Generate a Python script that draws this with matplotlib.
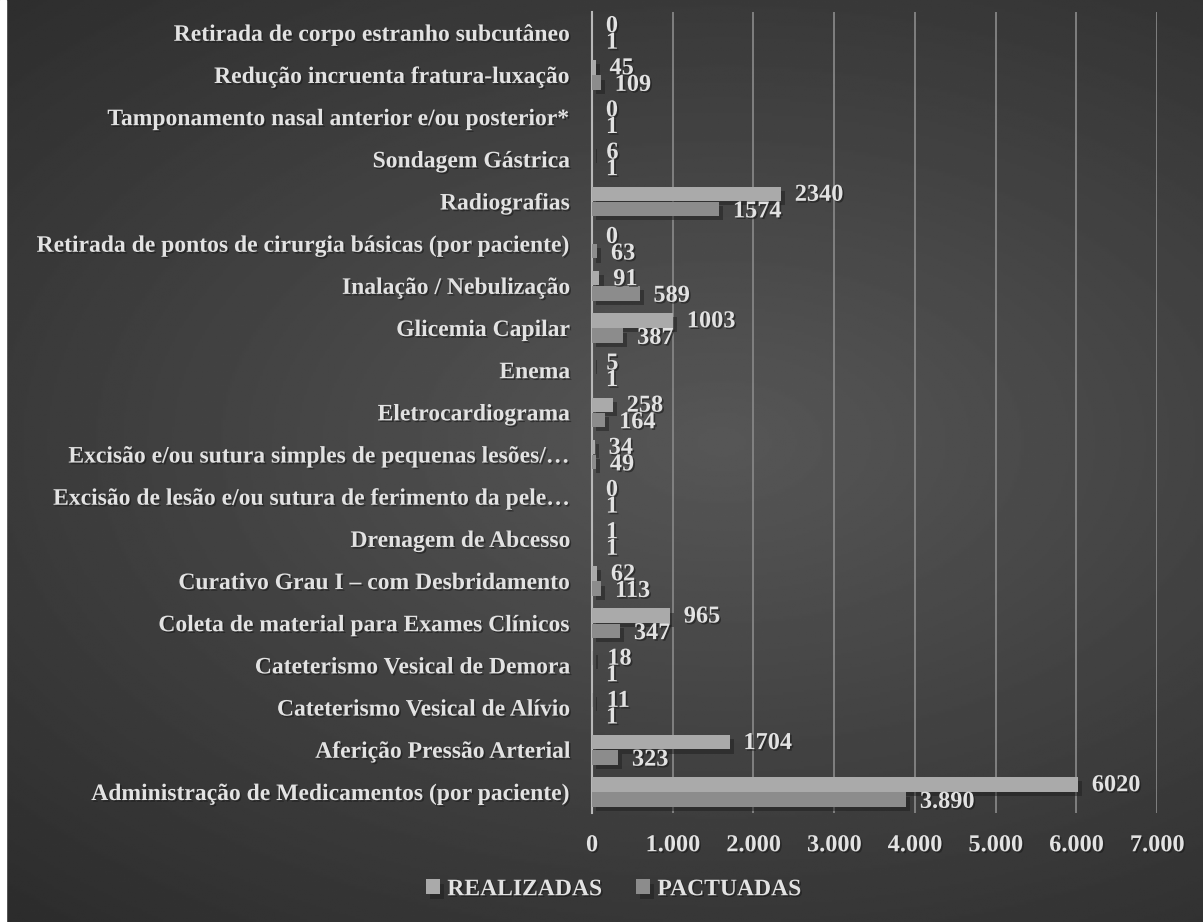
import numpy as np
import matplotlib.pyplot as plt
from matplotlib import patheffects as pe

categorias = [
    "Administração de Medicamentos (por paciente)",
    "Aferição Pressão Arterial",
    "Cateterismo Vesical de Alívio",
    "Cateterismo Vesical de Demora",
    "Coleta de material para Exames Clínicos",
    "Curativo Grau I – com Desbridamento",
    "Drenagem de Abcesso",
    "Excisão de lesão e/ou sutura de ferimento da pele…",
    "Excisão e/ou sutura simples de pequenas lesões/…",
    "Eletrocardiograma",
    "Enema",
    "Glicemia Capilar",
    "Inalação / Nebulização",
    "Retirada de pontos de cirurgia básicas (por paciente)",
    "Radiografias",
    "Sondagem Gástrica",
    "Tamponamento nasal anterior e/ou posterior*",
    "Redução incruenta fratura-luxação",
    "Retirada de corpo estranho subcutâneo",
]
realizadas = [6020, 1704, 11, 18, 965, 62, 1, 0, 34, 258, 5, 1003, 91, 0, 2340, 6, 0, 45, 0]
pactuadas = [3890, 323, 1, 1, 347, 113, 1, 1, 49, 164, 1, 387, 589, 63, 1574, 1, 1, 109, 1]
xticks = [0, 1000, 2000, 3000, 4000, 5000, 6000, 7000]

plt.rcParams['font.family'] = ['Liberation Serif', 'DejaVu Serif']
plt.rcParams['font.weight'] = 'bold'
txt = '#e2e2e2'
txt_fx = [pe.withSimplePatchShadow(offset=(1.2, -1.2), shadow_rgbFace='#1a1a1a', alpha=0.6)]

fig = plt.figure(figsize=(12.03, 9.22), dpi=100)

# background: dark radial gradient, white strip at the left edge
bg = fig.add_axes([0, 0, 1, 1], zorder=-10)
yy, xx = np.mgrid[0:1:400j, 0:1:520j]
shade = 0.34 - np.sqrt((0.188 * (xx - 0.6)) ** 2 + (0.24 * (yy - 0.52)) ** 2)
bg.imshow(shade, cmap='gray', vmin=0, vmax=1, extent=[0, 1, 0, 1], aspect='auto', origin='lower')
bg.axvspan(0, 0.005, color='white')
bg.set_xlim(0, 1)
bg.set_ylim(0, 1)
bg.axis('off')

ax = fig.add_axes([0.4921, 0.1182, 0.4697, 0.8691])
ax.patch.set_alpha(0)
y = np.arange(len(categorias))
h = 0.34
shadow = [pe.SimplePatchShadow(offset=(3, -3), shadow_rgbFace='#1e1e1e', alpha=0.5), pe.Normal()]
b1 = ax.barh(y + 0.18, realizadas, height=h, color='#aaaaaa', label='REALIZADAS', zorder=3)
b2 = ax.barh(y - 0.18, pactuadas, height=h, color='#8c8c8c', label='PACTUADAS', zorder=3)
for b in list(b1) + list(b2):
    b.set_path_effects(shadow)

pact_labels = [str(v) for v in pactuadas]
pact_labels[0] = "3.890"
for yi, v in zip(y, realizadas):
    ax.annotate(str(v), (v, yi + 0.18), xytext=(10, -1), textcoords='offset points',
                va='center', ha='left', color=txt, fontsize=17.5, fontweight='bold',
                path_effects=txt_fx)
for yi, v, lab in zip(y, pactuadas, pact_labels):
    ax.annotate(lab, (v, yi - 0.18), xytext=(10, -2), textcoords='offset points',
                va='center', ha='left', color=txt, fontsize=17.5, fontweight='bold',
                path_effects=txt_fx)

ax.set_xlim(0, 7000)
ax.set_ylim(-0.5, len(categorias) - 0.5)
ax.set_xticks(xticks)
ax.set_xticklabels([f"{t:,}".replace(",", ".") for t in xticks],
                   fontweight='bold', fontsize=17.5, path_effects=txt_fx)
ax.set_yticks(y)
ax.set_yticklabels(categorias, fontweight='bold', fontsize=17, path_effects=txt_fx)
ax.tick_params(axis='both', length=0, colors=txt)
ax.tick_params(axis='y', pad=15.5)
ax.tick_params(axis='x', pad=16)
ax.grid(axis='x', color='#858585', linewidth=1.3, zorder=0)
for s in ['top', 'right', 'bottom']:
    ax.spines[s].set_visible(False)
ax.spines['left'].set_color('#b8b8b8')
ax.spines['left'].set_linewidth(1.5)

leg = fig.legend(handles=[b1, b2], loc='center', bbox_to_anchor=(0.51, 0.035), ncol=2,
                 frameon=False, prop={'weight': 'bold', 'size': 17},
                 handlelength=0.6, handleheight=0.6,
                 handletextpad=0.3, columnspacing=1.45, labelcolor=txt)
for t in leg.get_texts():
    t.set_path_effects(txt_fx)

fig.savefig('out.png', dpi=100)
